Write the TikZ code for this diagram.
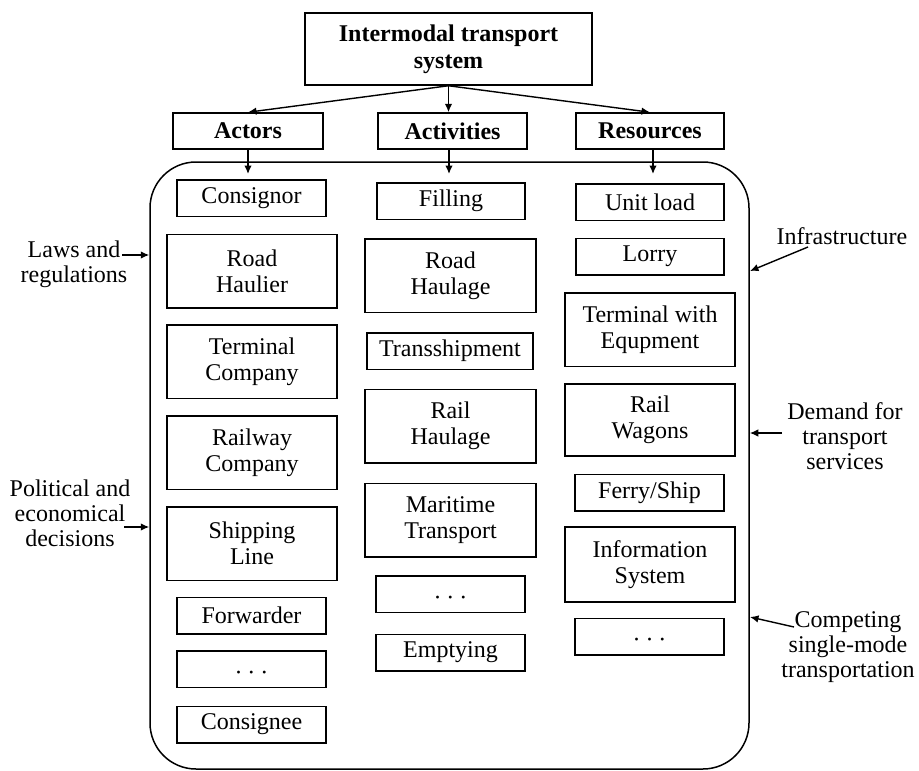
\documentclass[tikz,border=0pt]{standalone}
\usepackage{fontspec}
\setmainfont{Liberation Serif}
\usetikzlibrary{arrows.meta}
\newcommand{\mydots}{\raisebox{-11pt}[0pt][0pt]{·\hspace{5pt}·\hspace{5pt}·}}
\begin{document}
\begin{tikzpicture}[x=1pt,y=-1pt,
  every node/.style={font=\fontsize{24}{26}\selectfont, inner sep=0pt, align=center},
  sbox/.style={draw, line width=1.5pt, minimum width=149pt, minimum height=36.5pt},
  bbox/.style={draw, line width=1.5pt, minimum width=170pt, minimum height=73.5pt},
  head/.style={draw, line width=1.5pt, minimum width=149pt, minimum height=36pt, font=\fontsize{24}{26}\selectfont\bfseries},
  lbl/.style={font=\fontsize{24}{25}\selectfont},
  arr/.style={-{Latex[length=8.5pt,width=7.5pt]}, line width=1.4pt},
  frm/.style={draw, line width=1.5pt, rounded corners=46pt}
]
\path[use as bounding box] (0,0) rectangle (919,771);

% frame
\node[frm, minimum width=599pt, minimum height=607pt] (frame) at (449.5,465.5) {};

% top
\node[draw, line width=1.5pt, minimum width=287pt, minimum height=72pt,
      font=\fontsize{24}{27}\selectfont\bfseries] (top) at (448.5,49) {Intermodal transport\\system};

% headers
\node[head, minimum width=150pt] (actors) at (248,131) {Actors};
\node[head] (activities) at (452.5,131) {Activities};
\node[head, minimum width=148pt] (resources) at (650,131) {Resources};

\draw[arr] (top.south) -- (actors.north);
\draw[arr] (top.south) -- (top.south |- activities.north);
\draw[arr] (top.south) -- (resources.north);

\coordinate (ia) at (248,174);
\coordinate (ib) at (449,174);
\coordinate (ic) at (653,174);
\draw[arr] (actors.south) -- (ia);
\draw[arr] (ib |- activities.south) -- (ib);
\draw[arr] (ic |- resources.south) -- (ic);

% actors column
\node[sbox] (consignor) at (251.5,198) {Consignor};
\node[bbox] (roadhaulier) at (252,271) {Road\\Haulier};
\node[bbox] (terminalco) at (252,361.5) {Terminal\\Company};
\node[bbox] (railwayco) at (252,452.5) {Railway\\Company};
\node[bbox] (shipping) at (252,543.5) {Shipping\\Line};
\node[sbox] (forwarder) at (251.5,615.5) {Forwarder};
\node[sbox] (adots) at (251.5,669) {\mydots};
\node[sbox] (consignee) at (251.5,724.5) {Consignee};

% activities column
\node[sbox, minimum width=148pt] (filling) at (451,201) {Filling};
\node[bbox, minimum width=171pt] (roadhaulage) at (450.5,275.5) {Road\\Haulage};
\node[sbox, minimum width=166pt] (transship) at (450,351) {Transshipment};
\node[bbox, minimum width=171pt] (railhaulage) at (450.5,426) {Rail\\Haulage};
\node[bbox, minimum width=171pt] (maritime) at (450.5,520) {Maritime\\Transport};
\node[sbox] (bdots) at (450.5,594) {\mydots};
\node[sbox] (emptying) at (450.5,652.5) {Emptying};

% resources column
\node[sbox, minimum width=148pt] (unitload) at (650,202) {Unit load};
\node[sbox, minimum width=148pt] (lorry) at (650,256.5) {Lorry};
\node[bbox] (terminalwith) at (650,329.5) {Terminal with\\Equpment};
\node[bbox, minimum height=72pt] (railwagons) at (650,420) {Rail\\Wagons};
\node[sbox] (ferry) at (649.5,492.5) {Ferry/Ship};
\node[bbox, minimum height=75pt] (infosys) at (650,564.5) {Information\\System};
\node[sbox] (cdots) at (649.5,636.5) {\mydots};

% left labels
\node[lbl] (laws) at (74,264) {Laws and\\regulations};
\coordinate (lawsfrom) at (122,255);
\draw[arr] (lawsfrom) -- (frame.west |- lawsfrom);

\node[lbl] (political) at (70,513) {Political and\\economical\\decisions};
\coordinate (polfrom) at (124,527);
\draw[arr] (polfrom) -- (frame.west |- polfrom);

% right labels
\node[lbl] (infra) at (842,236) {Infrastructure};
\coordinate (infrafrom) at (808,247);
\coordinate (infrato) at (750,271);
\draw[arr] (infrafrom) -- (infrato);

\node[lbl] (demand) at (845,436) {Demand for\\transport\\services};
\coordinate (demfrom) at (782,433);
\draw[arr] (demfrom) -- (frame.east |- demfrom);

\node[lbl] (competing) at (848,647) {Competing\\single-mode\\transportation};
\coordinate (compfrom) at (794,627);
\coordinate (compto) at (750,617);
\draw[arr] (compfrom) -- (compto);
\end{tikzpicture}
\end{document}
